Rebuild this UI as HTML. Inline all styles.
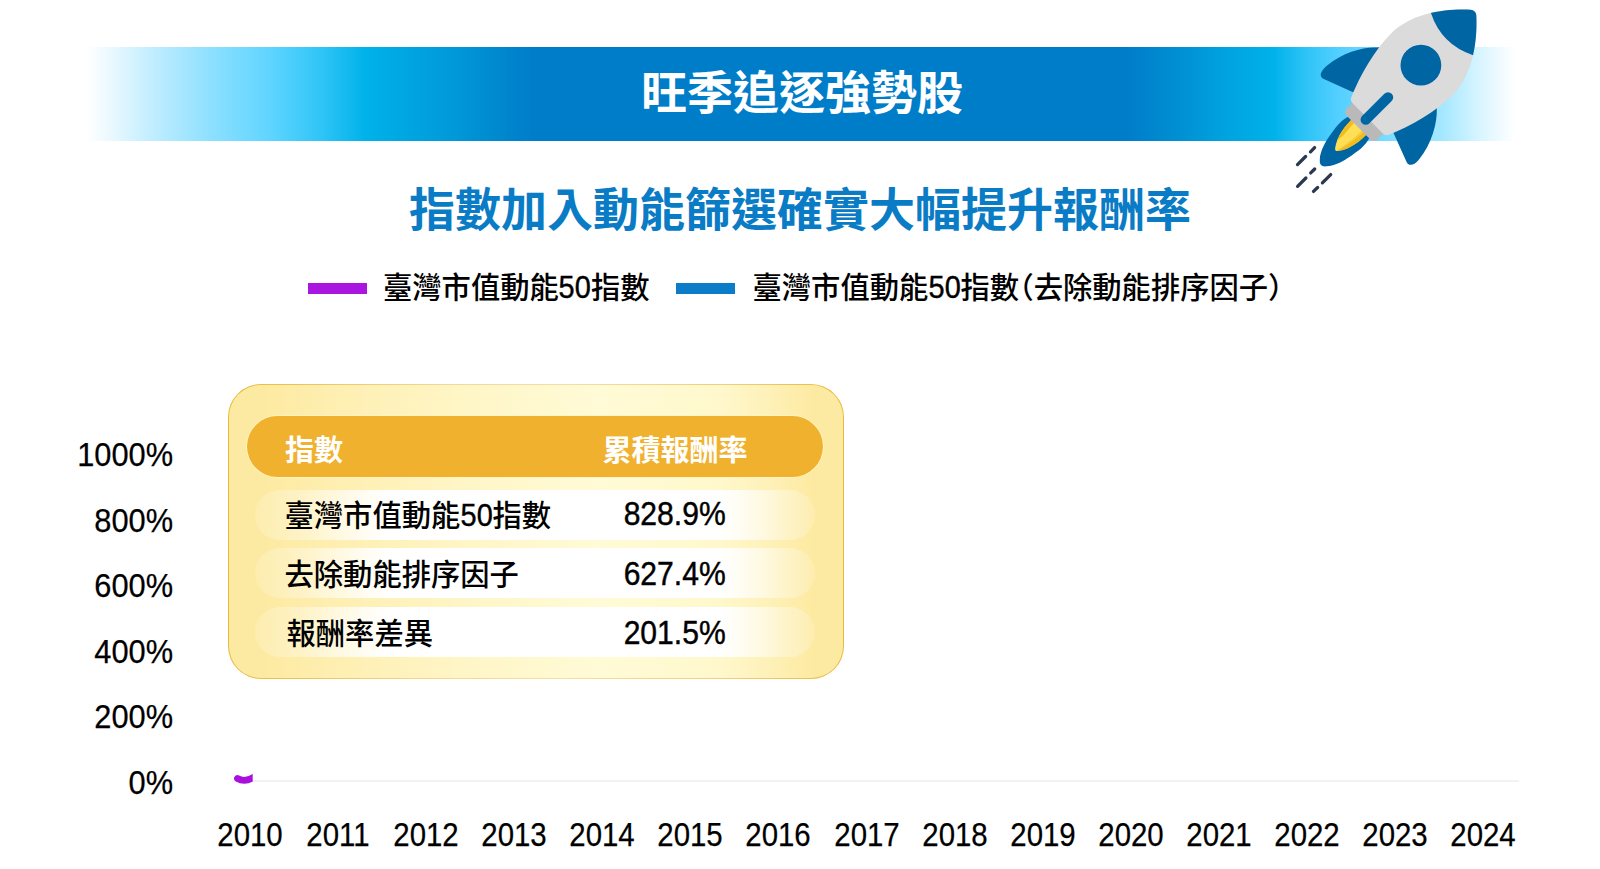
<!DOCTYPE html>
<html lang="zh-Hant">
<head>
<meta charset="utf-8">
<title>旺季追逐強勢股</title>
<style>
html,body{margin:0;padding:0;background:#fff;}
body{width:1600px;height:869px;position:relative;overflow:hidden;
  font-family:"Liberation Sans","Noto Sans CJK TC",sans-serif;color:#000;}
.abs{position:absolute;white-space:nowrap;}
.banner{left:87px;top:47px;width:1428px;height:94px;
  background:linear-gradient(90deg,
    #ffffff 0px,#e4f7ff 30px,#c4eeff 62px,#8fe0ff 122px,#5dd4ff 185px,#2fc4f6 235px,#00b2ea 278px,
    #00a4e0 325px,#0098d8 368px,#0089cf 410px,#007dc9 446px,
    #007dc9 1040px,#0090d3 1093px,#00a3e0 1140px,#00b2ea 1187px,#2cc3f6 1218px,
    #55d0ff 1253px,#7adcff 1300px,#a5e8ff 1356px,#d5f4ff 1390px,#f0fbff 1414px,#ffffff 1428px);}
.btitle{left:0;width:1604px;text-align:center;top:60px;height:66px;line-height:66px;
  font-size:46px;font-weight:700;color:#fff;}
.title{left:0;width:1600px;text-align:center;top:176.5px;height:66px;line-height:66px;
  font-size:46px;font-weight:700;color:#0a7cc6;}
.lg{font-size:29.3px;font-weight:500;line-height:42px;height:42px;top:267px;color:#000;}
.sw{height:11px;top:282.5px;}
.pl,.pr{display:inline-block;width:.5em;}
.pl{text-indent:-.5em;}
.d{display:inline-block;font-size:31.8px;line-height:1;transform:scaleX(.91);margin:0 -1.6px;-webkit-text-stroke:.4px #000;}
.card{left:228px;top:384px;width:614px;height:293px;border:1px solid transparent;border-radius:33px;
  background:linear-gradient(90deg,#fdeaa2 0%,#fdeaa2 6%,#feefb2 18%,#fff6c8 40%,#fffbd6 60%,#fff8cc 80%,#fef1b8 88%,#fdeaa2 95%,#fdeaa2 100%) padding-box,
    linear-gradient(90deg,#e8bb3a 0%,#ecc35c 12%,#f5d795 35%,#f7dda4 55%,#f2cc78 82%,#e8bb3a 100%) border-box;}
.hd{left:247px;top:416px;width:576px;height:61px;border-radius:31px;background:#f0b12f;box-shadow:0 0 0 1px rgba(255,244,196,.85);}
.row{left:255px;width:560px;height:50px;border-radius:25px;
  background:linear-gradient(90deg,rgba(255,255,255,.14) 0%,rgba(255,255,255,.36) 9%,#fff 24%,#fff 83%,rgba(255,255,255,.36) 94%,rgba(255,255,255,.14) 100%);}
.ct{font-size:29.3px;line-height:42px;height:42px;font-weight:500;color:#000;}
.ch{font-size:29px;line-height:42px;height:42px;font-weight:700;color:#fff;}
.c2{left:575px;width:200px;text-align:center;}
.num{display:inline-block;font-size:34px;transform:scaleX(.885);transform-origin:50% 50%;-webkit-text-stroke:.45px #000;}
.yl{left:20px;width:153px;text-align:right;font-size:34px;line-height:40px;height:40px;color:#000;transform:scaleX(.905);transform-origin:100% 50%;-webkit-text-stroke:.25px #000;}
.xl{width:100px;text-align:center;font-size:34px;line-height:40px;height:40px;top:814px;color:#000;transform:scaleX(.865);transform-origin:50% 50%;-webkit-text-stroke:.25px #000;}
.grid{left:236px;top:780px;width:1283px;height:2px;background:#f2f2f2;}
</style>
</head>
<body>
<div class="abs banner"></div>
<div class="abs btitle">旺季追逐強勢股</div>
<div class="abs title">指數加入動能篩選確實大幅提升報酬率</div>

<div class="abs sw" style="left:308px;width:59px;background:#a916e0"></div>
<div class="abs lg" style="left:383px">臺灣市值動能<span class="d">50</span>指數</div>
<div class="abs sw" style="left:676px;width:58.5px;background:#0a7cc8"></div>
<div class="abs lg" style="left:752.5px">臺灣市值動能<span class="d">50</span>指數<span class="pl">（</span>去除動能排序因子<span class="pr">）</span></div>

<div class="abs grid"></div>

<div class="abs yl" style="top:434px">1000%</div>
<div class="abs yl" style="top:499.6px">800%</div>
<div class="abs yl" style="top:565.2px">600%</div>
<div class="abs yl" style="top:630.8px">400%</div>
<div class="abs yl" style="top:696.4px">200%</div>
<div class="abs yl" style="top:762px">0%</div>

<div class="abs xl" style="left:200px">2010</div>
<div class="abs xl" style="left:288.1px">2011</div>
<div class="abs xl" style="left:376.1px">2012</div>
<div class="abs xl" style="left:464.2px">2013</div>
<div class="abs xl" style="left:552.3px">2014</div>
<div class="abs xl" style="left:640.4px">2015</div>
<div class="abs xl" style="left:728.4px">2016</div>
<div class="abs xl" style="left:816.5px">2017</div>
<div class="abs xl" style="left:904.6px">2018</div>
<div class="abs xl" style="left:992.6px">2019</div>
<div class="abs xl" style="left:1080.7px">2020</div>
<div class="abs xl" style="left:1168.8px">2021</div>
<div class="abs xl" style="left:1256.9px">2022</div>
<div class="abs xl" style="left:1344.9px">2023</div>
<div class="abs xl" style="left:1433px">2024</div>

<div class="abs card"></div>
<div class="abs hd"></div>
<div class="abs row" style="top:490px"></div>
<div class="abs row" style="top:548px"></div>
<div class="abs row" style="top:607px"></div>
<div class="abs ch" style="left:285px;top:429.5px">指數</div>
<div class="abs ch c2" style="top:429.5px">累積報酬率</div>
<div class="abs ct" style="left:284.5px;top:494.5px">臺灣市值動能<span class="d">50</span>指數</div>
<div class="abs ct c2" style="top:492px"><span class="num">828.9%</span></div>
<div class="abs ct" style="left:284.5px;top:554px">去除動能排序因子</div>
<div class="abs ct c2" style="top:552px"><span class="num">627.4%</span></div>
<div class="abs ct" style="left:286.5px;top:613px">報酬率差異</div>
<div class="abs ct c2" style="top:611px"><span class="num">201.5%</span></div>

<svg class="abs" style="left:1280px;top:0;width:240px;height:210px" viewBox="1280 0 240 210">
  <defs>
    <clipPath id="bodyclip"><path d="M-4,-74.4 A5.7,5.7 0 0 1 4,-74.4 C22,-58 42.8,-32 43.5,-2 C43.5,22 36,50 26.5,72 Q25.2,75.2 21,75.2 L-21,75.2 Q-25.2,75.2 -26.5,72 C-36,50 -43.5,22 -43.5,-2 C-42.8,-32 -22,-58 -4,-74.4 Z"/></clipPath>
    <clipPath id="flameclip"><path d="M-10.3,84 C-11,97 -9,109 -2.6,118.5 Q0,122.6 2.6,118.5 C9,109 11,97 10.3,84 Z"/></clipPath>
  </defs>
  <g transform="translate(1420.9,65.2) rotate(45)">
    <!-- flame -->
    <path d="M-12,82 C-17.2,89 -17.2,100 -15.6,108 C-14,121 -10.5,132.5 -4.6,138.4 Q0,144 4.6,138.4 C10.5,132.5 14,121 15.6,108 C17.2,100 17.2,89 12,82 Z" fill="#0065a3"/>
    <path d="M-10.3,84 C-11,97 -9,109 -2.6,118.5 Q0,122.6 2.6,118.5 C9,109 11,97 10.3,84 Z" fill="#ffdf55"/>
    <g clip-path="url(#flameclip)">
      <path d="M-12,84 L-6.8,84 L-5.2,104 L-6,114 L-12,114 Z" fill="#f0bc1f"/>
      <path d="M12,84 L5,84 L4.4,100 L1,121 L12,121 Z" fill="#f0bc1f"/>
      <path d="M5,84 L7.2,84 L5.6,102 L2.4,118 L1,121 L4.4,100 Z" fill="#f7cd38"/>
    </g>
    <!-- fins -->
    <path id="fin" d="M36,12 L42.5,20 C52,29 63,47 65.3,68 C66,75 63.5,81 57.5,78.2 L28.6,67.3 L18,55 Z" fill="#0065a3"/>
    <path d="M36,10 L42.5,18.3 C52.5,27 63.3,45 65.3,67 C66,75 63.5,81 57.5,78.2 L28.6,67.3 L18,55 Z" fill="#0065a3" transform="translate(-0.8,0) scale(-1,1)"/>
    <!-- collar -->
    <rect x="-21.6" y="70" width="43.2" height="18.2" rx="4.5" fill="#b9b9b9"/>
    <!-- body -->
    <path d="M-4,-74.4 A5.7,5.7 0 0 1 4,-74.4 C22,-58 42.8,-32 43.5,-2 C43.5,22 36,50 26.5,72 Q25.2,75.2 21,75.2 L-21,75.2 Q-25.2,75.2 -26.5,72 C-36,50 -43.5,22 -43.5,-2 C-42.8,-32 -22,-58 -4,-74.4 Z" fill="#dbdbdb"/>
    <!-- nose -->
    <path d="M-70,-100 L70,-100 L70,-64.2 L29.8,-44 Q0,-29 -29.8,-44 L-70,-64.2 Z" fill="#0065a3" clip-path="url(#bodyclip)"/>
    <circle cx="0" cy="0" r="20.4" fill="#0065a3"/>
    <line x1="-0.5" y1="46" x2="-0.5" y2="77.5" stroke="#0065a3" stroke-width="10.4" stroke-linecap="round"/>
  </g>
  <g stroke="#2b3950" stroke-width="3.3" stroke-linecap="round">
    <line x1="1310.5" y1="151.8" x2="1314.6" y2="147.6"/>
    <line x1="1297.5" y1="164.6" x2="1305.6" y2="156.5"/>
    <line x1="1310.7" y1="172.9" x2="1314.7" y2="169"/>
    <line x1="1297.6" y1="186.3" x2="1305.9" y2="178"/>
    <line x1="1322.4" y1="182.8" x2="1330.7" y2="174.6"/>
    <line x1="1313.5" y1="191.4" x2="1317.6" y2="187.5"/>
  </g>
</svg>

<svg class="abs" style="left:225px;top:765px;width:40px;height:30px" viewBox="225 765 40 30">
  <defs><clipPath id="stubclip2"><rect x="225" y="765" width="27.7" height="30"/></clipPath></defs>
  <path d="M237.5,778.5 Q245,782.8 254,777" fill="none" stroke="#a910de" stroke-width="6.8" stroke-linecap="round" clip-path="url(#stubclip2)"/>
</svg>
</body>
</html>
